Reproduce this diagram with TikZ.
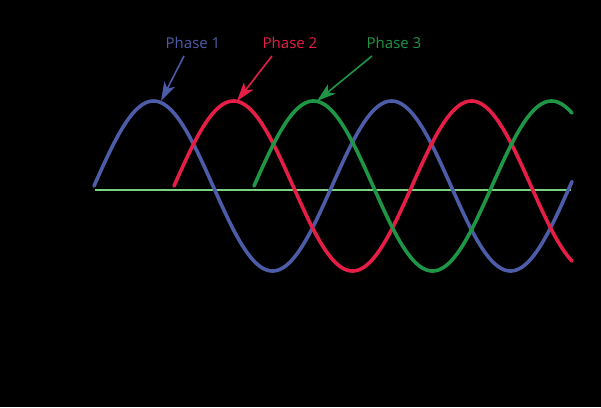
\documentclass[tikz,border=0pt]{standalone}
\usepackage{fontspec}
\setmainfont{Open Sans}
\usetikzlibrary{arrows.meta}
\definecolor{pblue}{RGB}{76,92,168}
\definecolor{pred}{RGB}{230,30,70}
\definecolor{pgreen}{RGB}{30,150,70}
\definecolor{paxis}{RGB}{120,210,130}
\tikzset{wave/.style={line width=3.6pt,line cap=round},
  lab/.style={font=\fontsize{15pt}{17pt}\selectfont},
  ptr/.style={line width=1.6pt,-{Stealth[length=19pt,width=12pt,inset=5pt]}}}
\begin{document}
\begin{tikzpicture}[x=1pt,y=-1pt]
\fill[black] (0,0) rectangle (601,407);
\useasboundingbox (0,0) rectangle (601,407);
\draw[paxis,line width=1.8pt] (95,190) -- (571,190);
\draw[wave,pblue] plot[domain=94:572,samples=240] (\x,{186-85*sin((\x-94)/238*360)});
\draw[wave,pred] plot[domain=174:572,samples=200] (\x,{186-85*sin((\x-174)/238*360)});
\draw[wave,pgreen] plot[domain=254:572,samples=170] (\x,{186-85*sin((\x-254)/238*360)});
\node[lab,text=pblue] (p1) at (193,43) {Phase 1};
\node[lab,text=pred] (p2) at (290,43) {Phase 2};
\node[lab,text=pgreen] (p3) at (394,43) {Phase 3};
\coordinate (t1) at (161,101);
\coordinate (t2) at (237,101);
\coordinate (t3) at (317,101);
\draw[ptr,pblue] (184,56) -- (t1);
\draw[ptr,pred] (272,56) -- (t2);
\draw[ptr,pgreen] (372,56) -- (t3);
\node[lab,text=black] (vp1) at (57,110) {$V_p$};
\node[lab,text=black] (vp2) at (57,282) {$V_p$};
\draw[black,-{Stealth}] (378,296) -- (572,296);
\node[lab,text=black] (f) at (465,345) {$V_{\mathrm{rms}}=V_p/\sqrt{2}$};
\end{tikzpicture}
\end{document}
